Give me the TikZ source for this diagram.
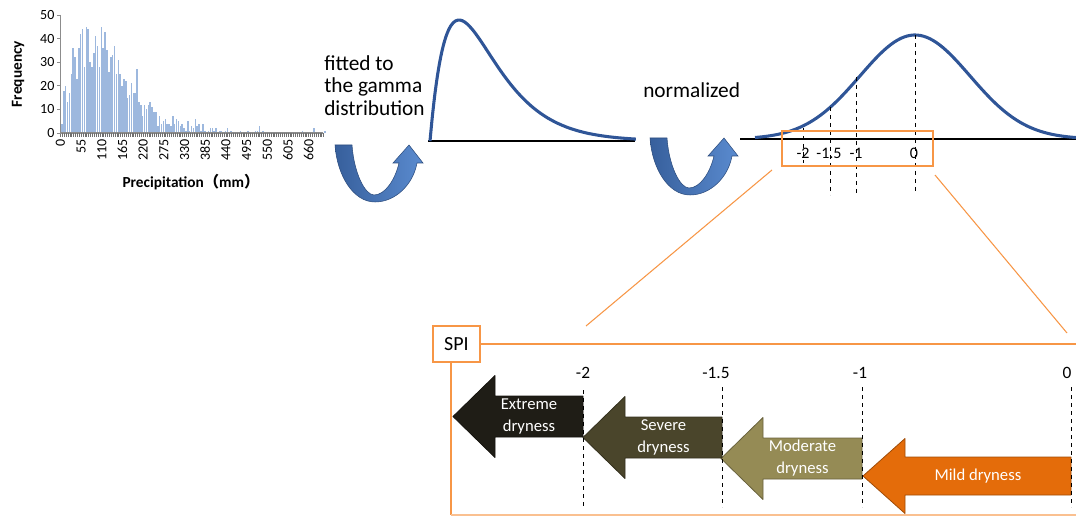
\documentclass[tikz,border=0pt]{standalone}
\usepackage{fontspec}
\setmainfont{Carlito}
\newfontfamily\cjk{Noto Sans CJK SC}

\definecolor{barblue}{HTML}{9DB8DE}
\definecolor{axisgrey}{HTML}{8C8C8C}
\definecolor{curveblue}{HTML}{2F5597}
\definecolor{turndark}{HTML}{375F9C}
\definecolor{turnlight}{HTML}{5A8BCF}
\definecolor{spiorange}{HTML}{F79646}
\definecolor{extremec}{HTML}{1F1D16}
\definecolor{severec}{HTML}{4A452B}
\definecolor{moderatec}{HTML}{958B55}
\definecolor{mildc}{HTML}{E46C0A}

\tikzset{
  ticklabel/.style={font=\fontsize{10.5}{12}\selectfont, inner sep=1pt},
  boldlabel/.style={font=\bfseries\fontsize{11.5}{13}\selectfont, inner sep=0pt},
  bigtext/.style={font=\fontsize{16}{17}\selectfont, inner sep=0pt, align=left},
  fitcurve/.style={curveblue, line width=2.3pt, line join=round},
  axisrule/.style={black, line width=1.7pt},
  guideline/.style={black, dashed, line width=0.75pt},
  zoomline/.style={spiorange, line width=0.8pt},
  spiframe/.style={spiorange, line width=1.7pt},
  scalelabel/.style={font=\fontsize{12}{14}\selectfont, inner sep=0pt},
  drytext/.style={white, align=center, font=\fontsize{12.5}{16.5}\selectfont, inner sep=0pt},
}

% blue U-turn arrow, top left corner at #2,#3
\newcommand{\uturn}[3]{%
  \coordinate (#1) at (#2,#3);
  \shadedraw[left color=turndark, right color=turnlight, draw=turndark!80!black, line width=0.4pt, shift={(#1)}]
    (0,0) -- (17,0) .. controls (19,28) and (30,50) .. (39,50)
    .. controls (50,50) and (60,35) .. (64,18) -- (58,18) -- (74,0) -- (88,18) -- (82,18)
    .. controls (78,40) and (60,57) .. (40,57) .. controls (18,57) and (2,30) .. (0,0) -- cycle;
}
% left block arrow: name, tip x, right x, mid y, half shaft, half head, colour, text
\newcommand{\dryarrow}[8]{%
  \filldraw[fill=#7, draw=#7!70!black, line width=0.6pt, line join=round]
    (#2,#4) -- (#2+42,#4-#6) -- (#2+42,#4-#5) -- (#3,#4-#5)
    -- (#3,#4+#5) -- (#2+42,#4+#5) -- (#2+42,#4+#6) -- cycle;
  \node (#1) [drytext] at ({(#2+42+#3)/2-10},#4) {#8};
}

\begin{document}
\begin{tikzpicture}[x=0.75pt, y=-0.75pt]
\useasboundingbox (0,0) rectangle (1076,517);

% histogram
\foreach \f [count=\i from 0] in {4,18,20,13,17,25,36,32,23,36,
    42,44,28,45,44,30,28,34,41,37, 28,45,36,43,35,26,32,33,37,25,
    31,25,20,23,22,15,16,21,17,17, 27,13,12,7,12,10,12,13,11,9,
    9,3,7,4,5,6,4,4,3,7, 4,6,5,3,4,2,1,5,1,3, 2,6,3,4,1,4,1,0,1,2,
    2,1,2,0,1,1,0,1,2,0, 1,0,0,0,0,1,0,0,0,1, 0,0,0,1,1,3,0,1,0,0,
    0,0,0,0,0,0,0,0,0,0, 0,0,0,0,0,0,0,0,1,0, 0,0,0,0,2,0,0,0,0,0, 1}
  \fill[barblue] ({61.1+\i*1.88},133) rectangle ++(1.55,{-\f*2.36});
\draw[axisgrey, line width=0.8pt] (60.5,15) -- (60.5,133) -- (323,133);
\foreach \i in {0,...,140}
  \draw[axisgrey!80!black, line width=0.5pt] ({60.5+\i*1.88},133) -- ++(0,4);
\foreach \v in {0,10,...,50} {
  \draw[axisgrey, line width=0.6pt] (57,{133-\v*2.36}) -- (60.5,{133-\v*2.36});
  \node (yl\v) [ticklabel, anchor=east] at (56,{133-\v*2.36}) {\v};
}
\foreach \v [count=\k from 0] in {0,55,...,660}
  \node (xl\k) [ticklabel, anchor=east, rotate=90] at ({60.5+\k*20.68},138) {\v};
\node (freq) [boldlabel, rotate=90] at (18,74) {Frequency};
\node (precip) [boldlabel, anchor=base] at (191,188) {Precipitation{\cjk （}mm{\cjk ）}};

% gamma fit
\node (fitted) [bigtext, anchor=north west] at (324,55) {fitted to\\the gamma\\distribution};
\uturn{turn1}{335}{145}
\draw[axisrule] (428,141) -- (635,141);
\draw[fitcurve] plot[domain=0:7.1, samples=90, smooth] ({430+29*\x},{141-121*\x*exp(1-\x)});

% normal curve
\node (norm) [bigtext, anchor=base west] at (643,98) {normalized};
\uturn{turn2}{650}{138}
\draw[axisrule] (740,139) -- (1076,139);
\draw[fitcurve] plot[domain=-160:161, samples=100, smooth] ({915+\x},{139-104*exp(-0.5*(\x/55)*(\x/55))});
\draw[guideline] (915,35) -- (915,192);
\draw[guideline] (856,77) -- (856,195);
\draw[guideline] (830,107) -- (830,195);
\draw[guideline] (803,128) -- (803,163);
\foreach \x/\t [count=\k] in {803/-2, 829/-1.5, 856/-1, 914/0}
  \node (nl\k) [scalelabel] at (\x,153) {\t};
\node (zoombox) [draw=spiorange, line width=2pt, minimum width=113.25pt, minimum height=26.25pt, inner sep=0pt] at (857.5,148.5) {};

% zoom into the SPI scale
\coordinate (zl) at (772,170);
\coordinate (zr) at (935,175);
\coordinate (fl) at (586,326);
\coordinate (fr) at (1067,333);
\draw[zoomline] (zl) -- (fl);
\draw[zoomline] (zr) -- (fr);

\node (spi) [draw=spiorange, line width=1.7pt, minimum width=35pt, minimum height=27pt, inner sep=0pt, font=\fontsize{15}{17}\selectfont] at (456.5,343.7) {SPI};
\coordinate (framer) at (1076,343.7);
\coordinate (framebl) at (451,515);
\coordinate (framebr) at (1076,515);
\draw[spiframe] (spi.east) -- (framer);
\draw[spiframe] (spi.south -| framebl) -- (framebl);
\draw[spiorange!60, line width=1.1pt] (framebl) -- (framebr);

\dryarrow{mild}{863}{1071}{476}{19}{37.5}{mildc}{Mild dryness}
\dryarrow{moderate}{721}{862}{458.5}{20.5}{41}{moderatec}{Moderate\\dryness}
\dryarrow{severe}{583}{722}{437.5}{20.5}{41}{severec}{Severe\\dryness}
\dryarrow{extreme}{453}{583}{416.5}{20.5}{41}{extremec}{Extreme\\dryness}

\draw[guideline] (583,390) -- (583,508);
\draw[guideline] (722,387) -- (722,507);
\draw[guideline] (862,387) -- (862,507);
\draw[guideline] (1071,387) -- (1071,507);
\foreach \x/\t [count=\k] in {583/-2, 716/-1.5, 860/-1, 1067/0}
  \node (sl\k) [scalelabel, font=\fontsize{13}{15}\selectfont] at (\x,373) {\t};
\end{tikzpicture}
\end{document}
